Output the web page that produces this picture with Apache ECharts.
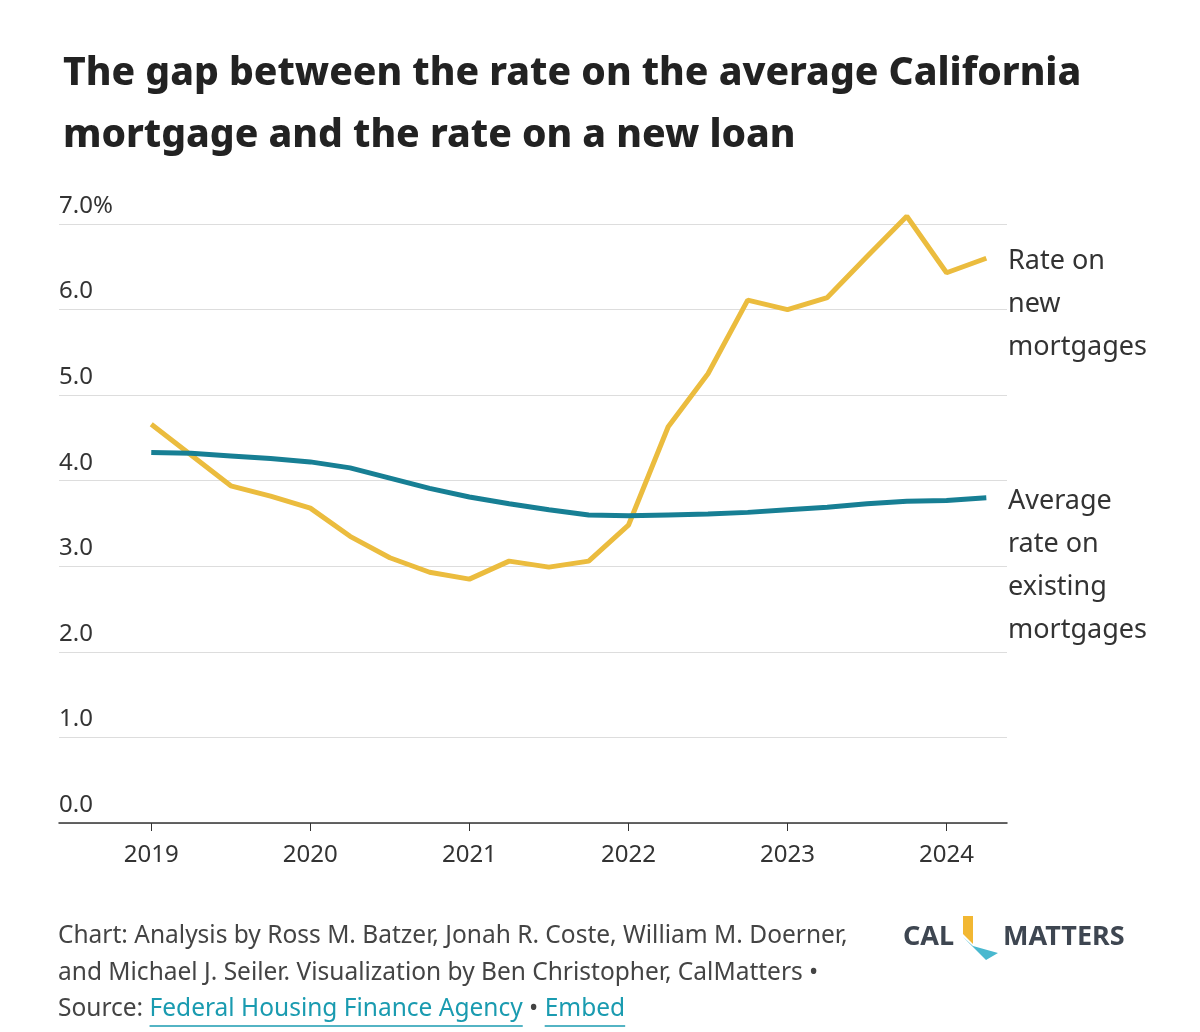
<!DOCTYPE html>
<html lang="en">
<head>
<meta charset="UTF-8">
<title>Mortgage rate gap</title>
<script src="https://cdn.jsdelivr.net/npm/echarts@6/dist/echarts.min.js"></script>
<style>html,body{margin:0;background:#fff}</style>
</head>
<body>
<div id="main" style="width:1200px;height:1032px"></div>
<script>
// quarters from 2019 Q1 to 2024 Q2
var quarters = [2019, 2019.25, 2019.5, 2019.75, 2020, 2020.25, 2020.5, 2020.75,
  2021, 2021.25, 2021.5, 2021.75, 2022, 2022.25, 2022.5, 2022.75,
  2023, 2023.25, 2023.5, 2023.75, 2024, 2024.25];
var newRates = [4.66, 4.30, 3.94, 3.82, 3.68, 3.35, 3.10, 2.93, 2.85, 3.06, 2.99, 3.06,
  3.48, 4.63, 5.25, 6.11, 6.00, 6.14, 6.62, 7.09, 6.43, 6.60];
var avgRates = [4.33, 4.32, 4.29, 4.26, 4.22, 4.15, 4.03, 3.91, 3.81, 3.73, 3.66, 3.60,
  3.59, 3.60, 3.61, 3.63, 3.66, 3.69, 3.73, 3.76, 3.77, 3.80];
var yearTicks = [2019, 2020, 2021, 2022, 2023, 2024];

var font = '"Noto Sans", sans-serif';
var footFont = '24.5px ' + font;
var myChart = echarts.init(document.getElementById('main'));

function pairs(vals) {
  return quarters.map(function (q, i) { return [q, vals[i]]; });
}

// measure footer pieces so the link underlines sit under the link text
var ctx = document.createElement('canvas').getContext('2d');
ctx.font = footFont;
var w = function (s) { return ctx.measureText(s).width; };
var srcX = 58;
var link1X = srcX + w('Source: ');
var link1W = w('Federal Housing Finance Agency');
var link2X = link1X + link1W + w(' • ');
var link2W = w('Embed');

var option = {
  animation: false,
  title: {
    text: 'The gap between the rate on the average California\nmortgage and the rate on a new loan',
    left: 58, top: 38,
    textStyle: { fontFamily: font, fontSize: 39, fontWeight: 800, color: '#222', lineHeight: 62 }
  },
  grid: { left: 59, right: 193, top: 224, bottom: 209 },
  xAxis: {
    type: 'value', min: 2018.42, max: 2024.38,
    axisLine: { lineStyle: { color: '#333', width: 1.5 } },
    axisTick: { customValues: yearTicks, length: 8, lineStyle: { color: '#333' } },
    axisLabel: { customValues: yearTicks, margin: 20, fontFamily: font, fontSize: 24, color: '#333',
      formatter: function (v) { return String(v); } },
    splitLine: { show: false }
  },
  yAxis: {
    type: 'value', min: 0, max: 7, interval: 1,
    axisLine: { show: false }, axisTick: { show: false },
    axisLabel: {
      inside: true, margin: 0, verticalAlign: 'bottom', padding: [0, 0, 6, 0],
      fontFamily: font, fontSize: 24, color: '#333',
      formatter: function (v) { return v === 7 ? '7.0%' : v.toFixed(1); }
    },
    splitLine: { lineStyle: { color: '#ddd', width: 1 } }
  },
  series: [
    { type: 'line', data: pairs(newRates), symbol: 'none', clip: false,
      lineStyle: { color: '#ebbc3e', width: 5 } },
    { type: 'line', data: pairs(avgRates), symbol: 'none', clip: false,
      lineStyle: { color: '#177f94', width: 5 } }
  ],
  graphic: [
    { type: 'text', left: 1008, top: 240,
      style: { text: 'Rate on\nnew\nmortgages', font: '27px ' + font, fill: '#333', lineHeight: 43 } },
    { type: 'text', left: 1008, top: 480,
      style: { text: 'Average\nrate on\nexisting\nmortgages', font: '27px ' + font, fill: '#333', lineHeight: 43 } },
    { type: 'text', left: srcX, top: 918,
      style: { text: 'Chart: Analysis by Ross M. Batzer, Jonah R. Coste, William M. Doerner,\nand Michael J. Seiler. Visualization by Ben Christopher, CalMatters •',
        font: footFont, fill: '#444', lineHeight: 37 } },
    { type: 'text', left: srcX, top: 997,
      style: { text: '{a|Source: }{l|Federal Housing Finance Agency}{a| • }{l|Embed}',
        rich: { a: { font: footFont, fill: '#444' }, l: { font: footFont, fill: '#1a9bb0' } } } },
    { type: 'line', shape: { x1: link1X, y1: 1026, x2: link1X + link1W, y2: 1026 }, style: { stroke: '#1a9bb0', lineWidth: 1.5 } },
    { type: 'line', shape: { x1: link2X, y1: 1026, x2: link2X + link2W, y2: 1026 }, style: { stroke: '#1a9bb0', lineWidth: 1.5 } },
    { type: 'text', left: 903, top: 924,
      style: { text: 'CAL', font: 'bold 27px ' + font, fill: '#3e4651' } },
    { type: 'polygon', shape: { points: [[963, 916], [973, 916], [973, 944], [963, 934]] }, style: { fill: '#f2b732' } },
    { type: 'polygon', shape: { points: [[963, 937], [973, 946], [998, 953], [986, 960]] }, style: { fill: '#49b8cf' } },
    { type: 'text', left: 1003, top: 924,
      style: { text: 'MATTERS', font: 'bold 27px ' + font, fill: '#3e4651' } }
  ]
};
myChart.setOption(option);
</script>
</body>
</html>
